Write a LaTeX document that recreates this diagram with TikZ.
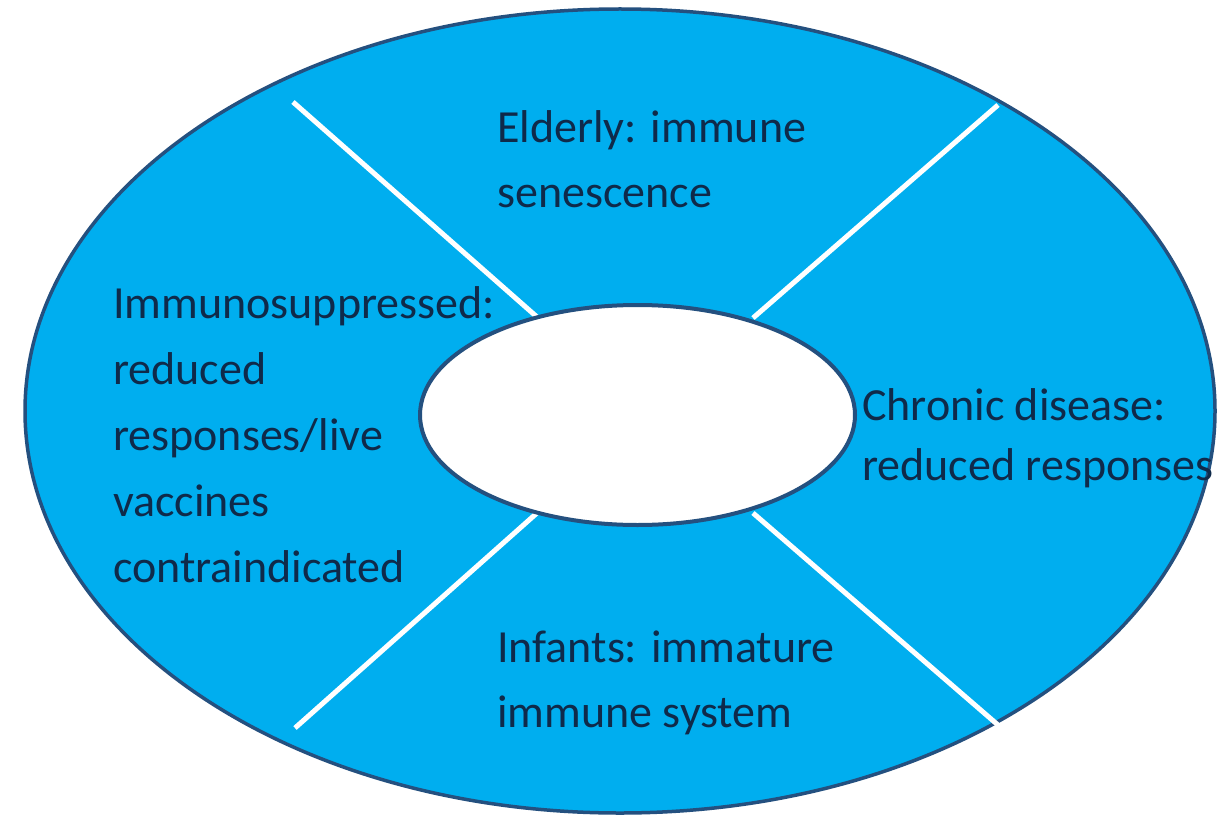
\documentclass[tikz,border=0pt]{standalone}
\usepackage{fontspec}
\setmainfont{Carlito}
\definecolor{ringblue}{HTML}{00AEEF}
\definecolor{edgeblue}{HTML}{24507F}
\definecolor{txtblue}{HTML}{0F2A4A}
\tikzset{
  ring/.style={fill=ringblue, draw=edgeblue, line width=3.5pt},
  hole/.style={fill=white, draw=edgeblue, line width=4pt},
  divider/.style={draw=white, line width=5pt},
  segtext/.style={anchor=base west, inner sep=0pt, text=txtblue},
  lead65/.style={font=\fontsize{46}{65}\selectfont},
  lead66/.style={font=\fontsize{46}{66}\selectfont},
  lead60/.style={font=\fontsize{46}{60}\selectfont},
}
\begin{document}
\begin{tikzpicture}[x=1pt,y=-1pt]
\useasboundingbox (0,0) rectangle (1217,821);
% outer ring
\path[ring] (620,411) ellipse [x radius=595pt, y radius=402pt];
% divider end points
\coordinate (tlin) at (537,317);
\coordinate (tlout) at (293,102);
\coordinate (trin) at (753,318);
\coordinate (trout) at (998,105);
\coordinate (blin) at (537,513);
\coordinate (blout) at (295,728);
\coordinate (brin) at (753,513);
\coordinate (brout) at (998,725);
\draw[divider] (tlin) -- (tlout);
\draw[divider] (trin) -- (trout);
\draw[divider] (blin) -- (blout);
\draw[divider] (brin) -- (brout);
% inner hole
\coordinate (hub) at (637.5,415);
\path[hole] (hub) ellipse [x radius=217.5pt, y radius=110pt];
% texts
\node[segtext, lead65] (elderly) at (497,143)
  {\begin{tabular}[t]{@{}l@{}}Elderly: immune\\senescence\end{tabular}};
\node[segtext, lead66] (immuno) at (113,318)
  {\begin{tabular}[t]{@{}l@{}}Immunosuppressed:\\reduced\\responses/live\\vaccines\\contraindicated\end{tabular}};
\node[segtext, lead60] (chronic) at (862,420)
  {\begin{tabular}[t]{@{}l@{}}Chronic disease:\\reduced responses\end{tabular}};
\node[segtext, lead65] (infants) at (497,662)
  {\begin{tabular}[t]{@{}l@{}}Infants: immature\\immune system\end{tabular}};
\end{tikzpicture}
\end{document}
